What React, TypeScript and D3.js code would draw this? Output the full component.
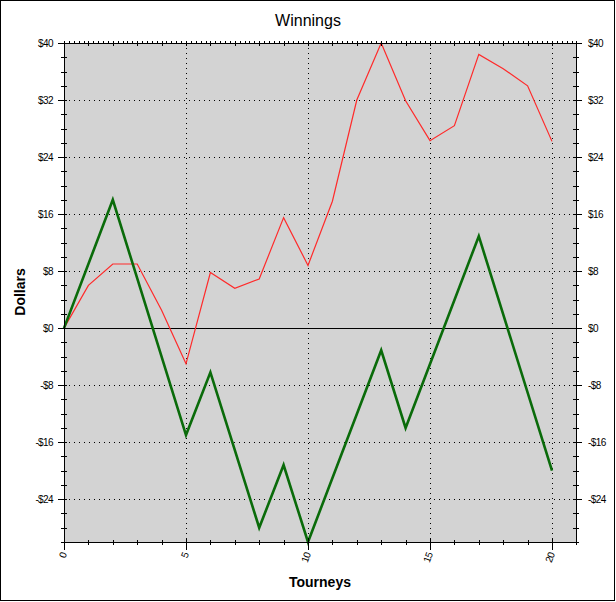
import React from "react";
import * as d3 from "d3";

const redX = [0, 1, 2, 3, 4, 5, 6, 7, 8, 9, 10, 11, 12, 13, 14, 15, 16, 17, 18, 19, 20];
const redY = [0, 6, 9, 9, 2.5, -5, 7.8, 5.6, 6.9, 15.5, 8.8, 17.8, 32, 40, 31.9, 26.3, 28.4, 38.4, 36.4, 34, 26.2];
const greenX = [0, 2, 5, 6, 8, 9, 10, 13, 14, 17, 20];
const greenY = [0, 18, -15, -6.2, -28, -19.2, -30, -3.1, -14, 12.9, -20];
const xMajor = [0, 5, 10, 15, 20];
const yMajor = [-24, -16, -8, 0, 8, 16, 24, 32, 40];
const title = "Winnings";
const xTitle = "Tourneys";
const yTitle = "Dollars";

const W = 616, H = 602;
const L = 64, R = 576.4, T = 43, B = 542;

export default function App() {
  const x = d3.scaleLinear().domain([0, 21]).range([L, R]);
  const y = d3.scaleLinear().domain([-30, 40]).range([B, T]);
  const mk = (xs: number[], ys: number[]) =>
    d3.line<number>().x((_, i) => x(xs[i])).y((_, i) => y(ys[i]))(xs) || "";
  const minorX = d3.range(0, 22, 1);
  const fineX = d3.range(0, 21.01, 0.2);
  const minorY = d3.range(-30, 41, 2);
  const fmt = (v: number) => (v < 0 ? "-$" + Math.abs(v) : "$" + v);
  const font = "'Liberation Sans', Arial, sans-serif";
  const px = (v: number) => Math.round(v) + 0.5;
  return (
    <svg width={W} height={H} style={{ position: "fixed", left: 0, top: 0 }} fontFamily={font}>
      <rect x={0} y={0} width={W} height={H} fill="#fff" />
      <rect x={0.5} y={0.5} width={614} height={600} fill="none" stroke="#000" />
      <rect x={L} y={T} width={R - L} height={B - T} fill="#d3d3d3" />
      {/* grid */}
      <g stroke="#000" strokeDasharray="1,4" shapeRendering="crispEdges">
        {xMajor.filter((v) => v > 0).map((v) => (
          <line key={"gx" + v} x1={px(x(v))} x2={px(x(v))} y1={T} y2={B} />
        ))}
        {yMajor.filter((v) => v !== 0 && v !== 40).map((v) => (
          <line key={"gy" + v} x1={L} x2={R} y1={px(y(v))} y2={px(y(v))} />
        ))}
      </g>
      <line x1={L} x2={R} y1={px(y(0))} y2={px(y(0))} stroke="#000" shapeRendering="crispEdges" />
      {/* series */}
      <path d={mk(redX, redY)} fill="none" stroke="#ff2a2a" strokeWidth={1.2} />
      <path d={mk(greenX, greenY)} fill="none" stroke="#0a6b0a" strokeWidth={2.6} strokeLinejoin="miter" />
      {/* frame */}
      <rect x={px(L)} y={px(T)} width={Math.round(R - L)} height={Math.round(B - T)} fill="none" stroke="#000" shapeRendering="crispEdges" />
      <g stroke="#000" shapeRendering="crispEdges">
        {minorY.map((v) => (
          <g key={"my" + v}>
            <line x1={L - 3} x2={L + 3} y1={px(y(v))} y2={px(y(v))} />
            <line x1={R - 3} x2={R + 3} y1={px(y(v))} y2={px(y(v))} />
          </g>
        ))}
        {yMajor.map((v) => (
          <g key={"My" + v}>
            <line x1={L - 6} x2={L + 3} y1={px(y(v))} y2={px(y(v))} />
            <line x1={R - 3} x2={R + 6} y1={px(y(v))} y2={px(y(v))} />
          </g>
        ))}
        {minorX.map((v) => (
          <line key={"mx" + v} x1={px(x(v))} x2={px(x(v))} y1={B - 2} y2={B + 3} />
        ))}
        {xMajor.map((v) => (
          <line key={"Mx" + v} x1={px(x(v))} x2={px(x(v))} y1={B - 4} y2={B + 8} />
        ))}
        {fineX.map((v, i) => (
          <line key={"fx" + i} x1={px(x(v))} x2={px(x(v))} y1={T - 2} y2={T} />
        ))}
        {minorX.map((v) => (
          <line key={"tx" + v} x1={px(x(v))} x2={px(x(v))} y1={T - 2} y2={T + 3} />
        ))}
      </g>
      <g fontSize={10} fill="#000">
        {yMajor.map((v) => (
          <text key={"ly" + v} x={53} y={y(v) + 3.5} textAnchor="end" letterSpacing={-0.6}>{fmt(v)}</text>
        ))}
        {yMajor.map((v) => (
          <text key={"ry" + v} x={588} y={y(v) + 3.5} textAnchor="start" letterSpacing={-0.6}>{fmt(v)}</text>
        ))}
        {xMajor.map((v) => (
          <text key={"lx" + v} transform={`translate(${x(v) + 3},${554}) rotate(-70)`} textAnchor="end" letterSpacing={-0.6}>{v}</text>
        ))}
      </g>
      <text x={308} y={26} textAnchor="middle" fontSize={16}>{title}</text>
      <text x={320} y={587} textAnchor="middle" fontSize={14} fontWeight="bold">{xTitle}</text>
      <text transform="translate(24.5,292) rotate(-90)" textAnchor="middle" fontSize={14} fontWeight="bold">{yTitle}</text>
    </svg>
  );
}
